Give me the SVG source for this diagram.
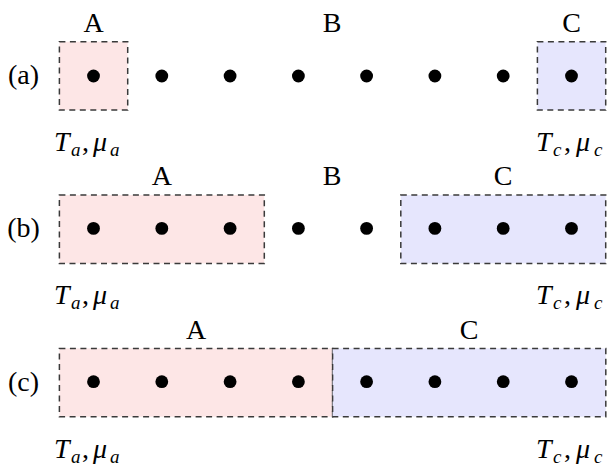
<svg xmlns="http://www.w3.org/2000/svg" width="608" height="464" viewBox="0 0 608 464">
<defs>
<style>
text{font-family:'Liberation Serif','Times New Roman',Times,serif;font-size:28px;fill:#000}
.lab{text-anchor:middle}
.it{font-style:italic}
.sub{font-size:19px;font-style:italic}
.ra{fill:#fde6e6;stroke:#3a3a3a;stroke-width:1.5;stroke-dasharray:6 4.5}
.rc{fill:#e6e6fd;stroke:#3a3a3a;stroke-width:1.5;stroke-dasharray:6 4.5}
.d{fill:#000}
</style>
<g id="dot"><circle r="6.4" class="d"/></g>
<g id="tl">
<text y="151"><tspan class="it" x="54">T</tspan><tspan class="sub" x="71" dy="5">a</tspan><tspan x="82" dy="-5">,</tspan><tspan class="it" x="93">μ</tspan><tspan class="sub" x="110" dy="5">a</tspan></text>
</g>
<g id="tr">
<text y="151"><tspan class="it" x="536">T</tspan><tspan class="sub" x="553" dy="5">c</tspan><tspan x="564" dy="-5">,</tspan><tspan class="it" x="576">μ</tspan><tspan class="sub" x="594" dy="5">c</tspan></text>
</g>
</defs>

<g id="row-a">
<text class="lab" x="23.5" y="84">(a)</text>
<g id="a-A"><rect class="ra" x="59.4" y="41.7" width="68.3" height="68.3"/><text class="lab" x="93.5" y="32">A</text></g>
<g id="a-B"><text class="lab" x="332" y="32">B</text></g>
<g id="a-C"><rect class="rc" x="537.4" y="41.7" width="68.3" height="68.3"/><text class="lab" x="571.5" y="32">C</text></g>
<g transform="translate(0,76)">
<use href="#dot" x="93.5"/><use href="#dot" x="161.8"/><use href="#dot" x="230.1"/><use href="#dot" x="298.4"/><use href="#dot" x="366.6"/><use href="#dot" x="434.9"/><use href="#dot" x="503.2"/><use href="#dot" x="571.5"/>
</g>
<use href="#tl"/><use href="#tr"/>
</g>

<g id="row-b" transform="translate(0,153.4)">
<text class="lab" x="23.5" y="84">(b)</text>
<g id="b-A"><rect class="ra" x="59.4" y="41.7" width="204.9" height="68.3"/><text class="lab" x="161.8" y="32">A</text></g>
<g id="b-B"><text class="lab" x="332" y="32">B</text></g>
<g id="b-C"><rect class="rc" x="400.8" y="41.7" width="204.9" height="68.3"/><text class="lab" x="503.2" y="32">C</text></g>
<g transform="translate(0,75)">
<use href="#dot" x="93.5"/><use href="#dot" x="161.8"/><use href="#dot" x="230.1"/><use href="#dot" x="298.4"/><use href="#dot" x="366.6"/><use href="#dot" x="434.9"/><use href="#dot" x="503.2"/><use href="#dot" x="571.5"/>
</g>
<use href="#tl"/><use href="#tr"/>
</g>

<g id="row-c" transform="translate(0,306.7)">
<text class="lab" x="23.5" y="84">(c)</text>
<g id="c-A"><rect class="ra" x="59.4" y="41.7" width="273.2" height="68.3"/><text class="lab" x="196" y="32">A</text></g>
<g id="c-C"><rect class="rc" x="332.6" y="41.7" width="273.2" height="68.3"/><text class="lab" x="469" y="32">C</text></g>
<g transform="translate(0,75)">
<use href="#dot" x="93.5"/><use href="#dot" x="161.8"/><use href="#dot" x="230.1"/><use href="#dot" x="298.4"/><use href="#dot" x="366.6"/><use href="#dot" x="434.9"/><use href="#dot" x="503.2"/><use href="#dot" x="571.5"/>
</g>
<use href="#tl"/><use href="#tr"/>
</g>
</svg>
